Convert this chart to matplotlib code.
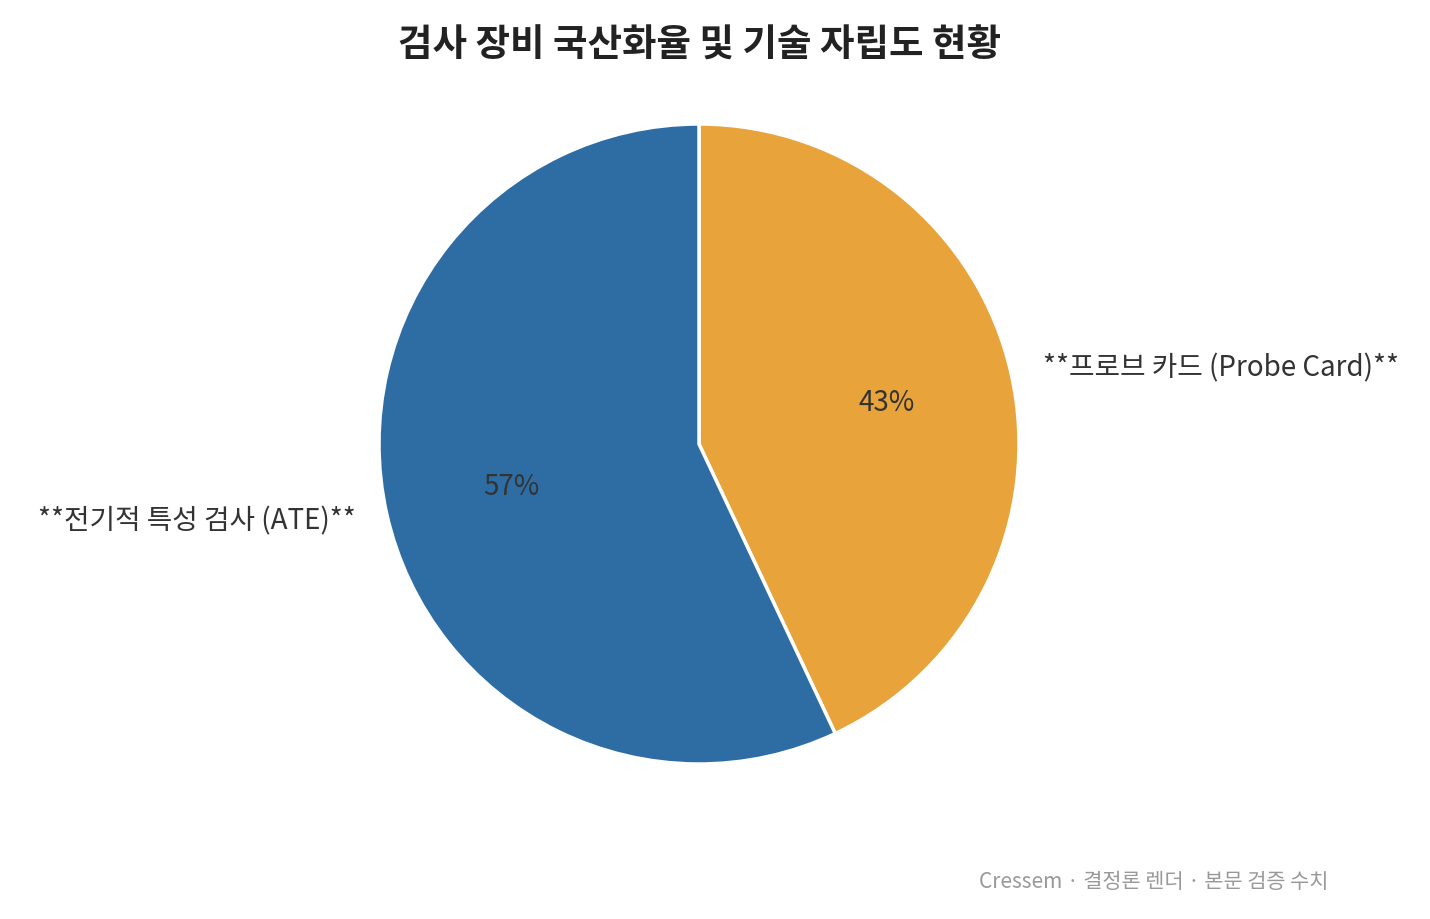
import matplotlib.pyplot as plt

plt.rcParams['font.family'] = ['Noto Sans CJK KR', 'DejaVu Sans']

labels = ['**프로브 카드 (Probe Card)**', '**전기적 특성 검사 (ATE)**']
values = [43, 57]
colors = ['#E8A33B', '#2E6DA4']

fig = plt.figure(figsize=(14.3, 9.2), dpi=100)
ax = fig.add_axes([379 / 1430, 155 / 920, 640 / 1430, 640 / 920])

wedges, texts, autotexts = ax.pie(
    values, labels=labels, colors=colors, startangle=90, counterclock=False,
    autopct='%d%%', pctdistance=0.6, labeldistance=1.1,
    wedgeprops=dict(edgecolor='white', linewidth=2.5),
    textprops=dict(fontsize=20, color='#333333'))
for t in autotexts:
    t.set_color('#333333')
    t.set_fontsize(20)
ax.set_xlim(-1, 1)
ax.set_ylim(-1, 1)
ax.set_aspect('equal')

fig.text(699 / 1430, 1 - 45 / 920, '검사 장비 국산화율 및 기술 자립도 현황',
         ha='center', va='center', fontsize=27, fontweight='bold', color='#222222')
fig.text(1328 / 1430, 1 - 882 / 920, 'Cressem · 결정론 렌더 · 본문 검증 수치',
         ha='right', va='center', fontsize=15, color='#999999')

fig.savefig('out.png', dpi=100)
